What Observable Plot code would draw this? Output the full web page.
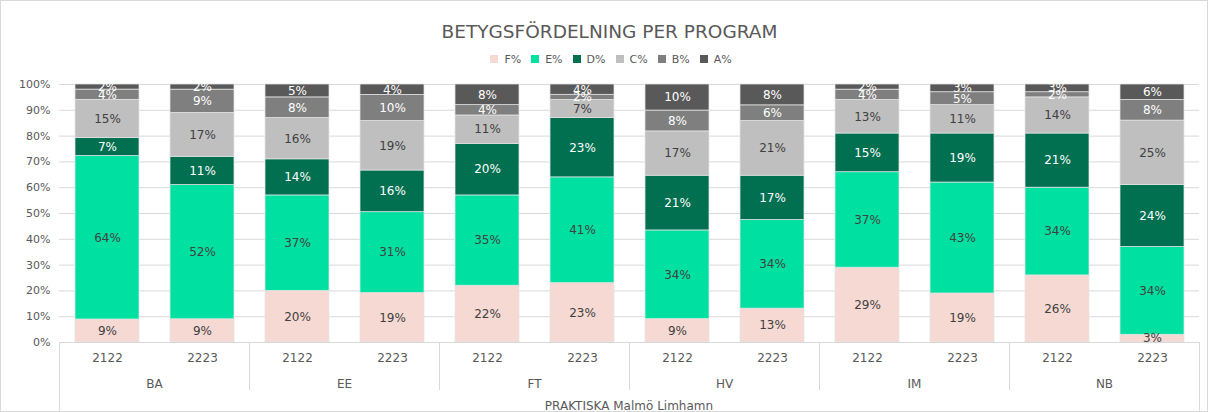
<!DOCTYPE html>
<html><head><meta charset="utf-8">
<script src="https://cdn.jsdelivr.net/npm/d3@7"></script>
<script src="https://cdn.jsdelivr.net/npm/@observablehq/plot@0.6"></script>
<style>
body{margin:0;background:#fff;font-family:"DejaVu Sans",sans-serif;}
#wrap{width:1208px;height:412px;box-sizing:border-box;border:1px solid #d9d9d9;overflow:hidden;}
#title{height:29px;padding-top:19px;padding-left:11px;line-height:24px;text-align:center;font-size:18.5px;color:#595959;}
#legend{height:22px;line-height:22px;padding-left:14px;text-align:center;font-size:11px;color:#595959;}
#legend span.item{display:inline-block;margin:0 5px;}
#legend span.sw{display:inline-block;width:8px;height:8px;margin-right:6px;}
svg{display:block;}
</style></head>
<body>
<div id="wrap">
<div id="title">BETYGSFÖRDELNING PER PROGRAM</div>
<div id="legend"></div>
<div id="chart"></div>
</div>
<script>
const programs = ["BA","EE","FT","HV","IM","NB"];
const years = ["2122","2223"];
const grades = ["F%","E%","D%","C%","B%","A%"];
const gradeColors = ["#f6d9d2","#00e0a0","#007050","#bfbfbf","#7f7f7f","#595959"];
const caption = "PRAKTISKA Malmö Limhamn";
// values per bar in order BA 2122, BA 2223, EE 2122, ... NB 2223
const F = [9,9,20,19,22,23,9,13,29,19,26,3];
const E = [64,52,37,31,35,41,34,34,37,43,34,34];
const D = [7,11,14,16,20,23,21,17,15,19,21,24];
const C = [15,17,16,19,11,7,17,21,13,11,14,25];
const B = [4,9,8,10,4,2,8,6,4,5,2,8];
const A = [2,2,5,4,8,4,10,8,2,3,3,6];
const seriesList = [F,E,D,C,B,A];
const lightLabel = ["D%","B%","A%"];

const data = [];
programs.forEach((p,pi)=>years.forEach((yr,yi)=>grades.forEach((g,gi)=>{
  data.push({program:p, year:yr, grade:g, value:seriesList[gi][pi*2+yi]});
})));

// legend
const leg = d3.select("#legend");
grades.forEach((g,i)=>{
  const it = leg.append("span").attr("class","item");
  it.append("span").attr("class","sw").style("background",gradeColors[i]);
  it.append("span").text(g);
});

const font = "DejaVu Sans, sans-serif";
const stackOpts = {offset:"normalize", fx:"program", x:"year", y:"value", z:"grade", order:grades};
const plot = Plot.plot({
  width:1206, height:340,
  marginTop:13, marginBottom:69, marginLeft:56, marginRight:7,
  style:{fontFamily:font, fontSize:"11px", color:"#595959", background:"white"},
  fx:{domain:programs, padding:0, label:null},
  x:{domain:years, paddingInner:0.33, paddingOuter:0.165, label:null},
  y:{domain:[0,1], label:null},
  color:{domain:grades, range:gradeColors},
  marks:[
    Plot.gridY({ticks:d3.range(1,11).map(d=>d/10), stroke:"#d9d9d9", strokeOpacity:1}),
    Plot.axisY({ticks:d3.range(0,11).map(d=>d/10), tickFormat:d3.format(".0%"), tickSize:0, tickPadding:9, label:null, fill:"#595959"}),
    Plot.barY(data, Plot.stackY({...stackOpts, fill:"grade", stroke:"#e3e3e3", strokeWidth:0.75})),
    Plot.ruleY([0], {stroke:"#d9d9d9"}),
    Plot.text(data, Plot.stackY({...stackOpts, text:d=>lightLabel.includes(d.grade)?null:d.value+"%", fill:"#404040", fontSize:12})),
    Plot.text(data, Plot.stackY({...stackOpts, text:d=>lightLabel.includes(d.grade)?d.value+"%":null, fill:"white", fontSize:12})),
    Plot.axisX({tickSize:0, tickPadding:11, label:null, fontSize:12, fill:"#595959"}),
    Plot.axisFx({anchor:"bottom", tickSize:0, tickPadding:37, label:null, fontSize:12, fill:"#595959"})
  ]
});
document.getElementById("chart").appendChild(plot);

// category separators and caption, positioned with the plot's scales
const fx = plot.scale("fx");
const y = plot.scale("y");
const svg = d3.select(plot);
const y0 = y.apply(0);
const bw = fx.bandwidth;
const g = svg.append("g").attr("stroke","#d9d9d9").attr("stroke-width",1);
const xs = programs.map(p=>fx.apply(p));
xs.push(xs[xs.length-1]+bw);
xs.forEach((x,i)=>{
  const outer = (i===0 || i===xs.length-1);
  g.append("line").attr("x1",Math.round(x)+0.5).attr("x2",Math.round(x)+0.5)
    .attr("y1",y0).attr("y2", outer ? 340 : y0+48);
});
svg.append("text")
  .attr("x",(xs[0]+xs[xs.length-1])/2).attr("y",y0+64)
  .attr("text-anchor","middle").attr("dominant-baseline","middle")
  .attr("fill","#595959").attr("font-size",12).attr("font-family",font)
  .text(caption);
</script>
</body></html>
